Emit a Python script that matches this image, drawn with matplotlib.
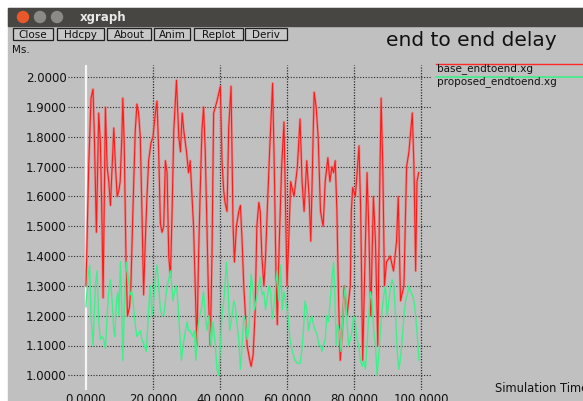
import numpy as np
import matplotlib
matplotlib.use("Agg")
import matplotlib.pyplot as plt
from matplotlib.patches import Rectangle, Circle

# base_endtoend.xg  (time, delay)
base_t = [0.0, 0.8, 1.5, 2.1, 2.5, 3.1, 3.8, 4.3, 4.8, 5.1, 5.8, 6.3, 6.8, 7.3, 7.8, 8.3, 8.8, 9.3, 9.8, 10.2,
          10.7, 11.0, 11.4, 12.0, 12.4, 13.0, 13.4, 14.0, 14.7, 15.2, 15.7, 16.2, 16.7, 17.2, 17.7, 18.2, 18.7, 19.4, 20.0, 20.7,
          21.2, 21.7, 22.2, 22.7, 23.2, 23.7, 24.2, 24.7, 25.2, 25.7, 26.2, 27.0, 27.7, 28.2, 28.7, 29.2, 30.0, 30.6, 31.1, 32.1,
          32.6, 33.1, 33.6, 34.1, 34.6, 35.1, 35.6, 36.1, 36.6, 37.1, 37.6, 38.1, 39.1, 40.1, 40.6, 41.1, 41.5, 42.1, 42.6, 43.3,
          43.9, 44.3, 44.9, 45.6, 46.1, 46.6, 47.1, 47.6, 48.1, 48.9, 49.3, 49.9, 50.5, 51.0, 51.6, 52.0, 52.5, 53.1, 53.6, 54.1,
          54.8, 55.7, 56.2, 56.7, 57.1, 57.7, 58.4, 59.1, 59.5, 60.0, 60.6, 61.1, 62.1, 63.1, 63.9, 64.5, 65.1, 65.9, 66.6, 67.1,
          67.6, 68.1, 68.7, 69.3, 70.0, 70.8, 71.4, 72.2, 72.8, 73.4, 73.9, 74.4, 74.9, 75.4, 75.9, 76.5, 77.1, 77.9, 78.9, 79.2,
          79.6, 80.4, 81.5, 82.0, 82.6, 83.1, 83.9, 84.4, 85.0, 85.8, 86.4, 87.1, 87.7, 88.1, 88.6, 89.1, 89.7, 90.8, 91.8, 92.7,
          93.2, 93.9, 94.9, 95.7, 96.4, 97.4, 97.9, 98.4, 98.8, 99.3]
base_d = [1.30, 1.70, 1.93, 1.96, 1.80, 1.48, 1.88, 1.78, 1.50, 1.26, 1.90, 1.70, 1.65, 1.57, 1.70, 1.83, 1.70, 1.60, 1.62, 1.65,
          1.80, 1.93, 1.78, 1.35, 1.20, 1.23, 1.30, 1.55, 1.82, 1.91, 1.88, 1.80, 1.55, 1.27, 1.45, 1.60, 1.72, 1.78, 1.80, 1.88,
          1.92, 1.75, 1.51, 1.48, 1.50, 1.72, 1.68, 1.40, 1.33, 1.55, 1.82, 1.99, 1.80, 1.75, 1.88, 1.82, 1.75, 1.68, 1.72, 1.50,
          1.30, 1.10, 1.40, 1.62, 1.82, 1.90, 1.75, 1.50, 1.25, 1.10, 1.40, 1.88, 1.92, 1.97, 1.72, 1.62, 1.58, 1.55, 1.83, 1.97,
          1.50, 1.38, 1.50, 1.55, 1.57, 1.45, 1.30, 1.20, 1.10, 1.05, 1.03, 1.07, 1.22, 1.50, 1.58, 1.55, 1.40, 1.30, 1.40, 1.55,
          1.75, 1.98, 1.70, 1.35, 1.17, 1.45, 1.70, 1.85, 1.60, 1.30, 1.48, 1.65, 1.60, 1.70, 1.86, 1.65, 1.55, 1.72, 1.60, 1.45,
          1.70, 1.95, 1.90, 1.80, 1.55, 1.50, 1.65, 1.73, 1.65, 1.70, 1.68, 1.72, 1.55, 1.25, 1.05, 1.15, 1.30, 1.20, 1.30, 1.55,
          1.63, 1.60, 1.77, 1.55, 1.05, 1.30, 1.68, 1.50, 1.20, 1.60, 1.45, 1.10, 1.65, 1.93, 1.70, 1.30, 1.38, 1.40, 1.35, 1.45,
          1.60, 1.25, 1.30, 1.70, 1.75, 1.88, 1.70, 1.35, 1.65, 1.68]

# proposed_endtoend.xg  (time, delay)
prop_t = [0.0, 0.5, 1.1, 1.5, 2.1, 2.8, 3.3, 3.8, 4.3, 4.8, 5.3, 5.8, 6.3, 6.8, 7.3, 7.8, 8.3, 8.6, 9.1, 9.5,
          9.8, 10.3, 10.7, 11.0, 11.5, 12.0, 12.7, 13.2, 13.7, 14.2, 14.7, 15.2, 16.2, 16.7, 17.4, 18.0, 18.7, 19.2, 19.7, 20.2,
          20.7, 21.2, 21.7, 22.2, 22.7, 23.2, 23.7, 24.2, 24.7, 25.2, 26.0, 26.4, 27.0, 27.4, 28.0, 28.5, 29.0, 29.7, 30.2, 30.6,
          31.1, 31.8, 32.3, 32.8, 33.3, 33.9, 34.4, 35.1, 35.6, 36.1, 36.7, 37.3, 37.9, 38.6, 39.1, 39.6, 40.1, 40.6, 41.3, 41.9,
          42.4, 42.9, 43.6, 44.1, 44.6, 45.1, 45.6, 46.1, 46.6, 47.1, 47.6, 48.1, 48.6, 49.3, 49.9, 50.3, 51.1, 52.0, 52.6, 53.1,
          53.6, 54.1, 54.6, 55.1, 55.6, 56.1, 56.6, 57.1, 57.6, 58.1, 58.6, 59.1, 59.6, 60.3, 60.9, 61.6, 62.4, 63.1, 63.9, 64.4,
          64.9, 65.4, 65.9, 66.4, 66.9, 67.4, 67.9, 68.4, 68.9, 69.6, 70.1, 70.4, 70.9, 71.4, 71.9, 72.4, 72.9, 73.4, 73.9, 74.2,
          74.7, 75.1, 75.6, 76.1, 76.6, 76.9, 77.4, 77.9, 78.4, 78.9, 79.4, 79.9, 80.4, 80.9, 81.4, 81.9, 82.4, 82.9, 83.4, 83.9,
          84.4, 84.9, 85.4, 85.9, 86.4, 86.9, 87.4, 87.9, 88.4, 88.9, 89.4, 89.9, 90.4, 90.9, 91.4, 91.9, 92.4, 92.9, 93.4, 93.9,
          94.4, 94.9, 95.4, 95.9, 96.4, 96.9, 97.4, 97.9, 98.4, 98.9, 99.4]
prop_d = [1.23, 1.32, 1.37, 1.20, 1.10, 1.30, 1.35, 1.18, 1.12, 1.13, 1.12, 1.09, 1.20, 1.28, 1.32, 1.25, 1.15, 1.13, 1.25, 1.28,
          1.20, 1.38, 1.20, 1.05, 1.25, 1.38, 1.32, 1.27, 1.28, 1.23, 1.17, 1.13, 1.15, 1.12, 1.10, 1.08, 1.22, 1.30, 1.20, 1.25,
          1.33, 1.37, 1.30, 1.22, 1.20, 1.20, 1.25, 1.30, 1.32, 1.35, 1.25, 1.28, 1.30, 1.25, 1.14, 1.05, 1.10, 1.15, 1.18, 1.15,
          1.15, 1.13, 1.15, 1.05, 1.15, 1.20, 1.22, 1.28, 1.20, 1.15, 1.20, 1.10, 1.18, 1.10, 1.02, 1.00, 1.10, 1.20, 1.27, 1.38,
          1.30, 1.15, 1.20, 1.25, 1.23, 1.17, 1.12, 1.02, 1.10, 1.20, 1.18, 1.12, 1.15, 1.34, 1.28, 1.22, 1.27, 1.33, 1.27, 1.28,
          1.22, 1.26, 1.30, 1.28, 1.19, 1.23, 1.30, 1.35, 1.25, 1.37, 1.22, 1.28, 1.25, 1.20, 1.12, 1.08, 1.05, 1.04, 1.04, 1.08,
          1.15, 1.25, 1.22, 1.15, 1.18, 1.20, 1.17, 1.15, 1.14, 1.10, 1.10, 1.08, 1.10, 1.12, 1.20, 1.18, 1.25, 1.32, 1.38, 1.30,
          1.10, 1.17, 1.15, 1.08, 1.18, 1.25, 1.30, 1.18, 1.10, 1.12, 1.15, 1.20, 1.18, 1.12, 1.10, 1.05, 1.03, 1.05, 1.02, 1.10,
          1.20, 1.28, 1.25, 1.15, 1.10, 1.00, 1.07, 1.15, 1.22, 1.27, 1.30, 1.20, 1.25, 1.30, 1.32, 1.30, 1.20, 1.08, 1.02, 1.06,
          1.12, 1.20, 1.25, 1.27, 1.30, 1.28, 1.27, 1.25, 1.20, 1.13, 1.05]

x_ticks = [0, 20, 40, 60, 80, 100]
y_ticks = [1.0, 1.1, 1.2, 1.3, 1.4, 1.5, 1.6, 1.7, 1.8, 1.9, 2.0]
buttons = ["Close", "Hdcpy", "About", "Anim", "Replot", "Deriv"]
series_names = ["base_endtoend.xg", "proposed_endtoend.xg"]

W, H = 583, 401
gray = "#c0c0c0"
fig = plt.figure(figsize=(W / 100, H / 100), dpi=100, facecolor="white")

# background / window chrome in pixel coordinates
bg = fig.add_axes([0, 0, 1, 1])
bg.set_xlim(0, W)
bg.set_ylim(H, 0)
bg.axis("off")
bg.add_patch(Rectangle((8, 8), W - 8, H - 8, color=gray, zorder=0))
bg.add_patch(Rectangle((8, 8), W - 8, 18, color="#484643", zorder=1))
bg.add_patch(Circle((23, 17), 5.5, color="#e8582a", zorder=2))
bg.add_patch(Circle((40, 17), 5.5, color="#8c8a86", zorder=2))
bg.add_patch(Circle((57, 17), 5.5, color="#8c8a86", zorder=2))
bg.text(80, 17.5, "xgraph", color="#e8e8e8", fontsize=8.5, fontweight="bold", va="center", ha="left")

bx = [13, 57, 107, 154, 194, 245]
bw = [40, 47, 44, 36, 49, 42]
for x0, w, lab in zip(bx, bw, buttons):
    bg.add_patch(Rectangle((x0, 28), w, 12, facecolor="#c8c8c8", edgecolor="#202020", lw=0.9, zorder=2))
    bg.text(x0 + w / 2, 34.5, lab, fontsize=7.5, ha="center", va="center", color="#111111", zorder=3)

bg.text(12, 50, "Ms.", fontsize=7.5, ha="left", va="center", color="#111111")
bg.text(386, 40, "end to end delay", fontsize=14.5, ha="left", va="center", color="#111111")
bg.text(495, 388, "Simulation Time", fontsize=8.3, ha="left", va="center", color="#111111")

# legend, xgraph style: line above the name
bg.plot([436, W], [63.5, 63.5], color="#ff2a2a", lw=1.0)
bg.plot([436, W], [76.5, 76.5], color="#3ef08c", lw=1.2)
bg.text(437, 69, series_names[0], fontsize=7.5, ha="left", va="center", color="#111111")
bg.text(437, 82, series_names[1], fontsize=7.5, ha="left", va="center", color="#111111")

# data axes
l_px, r_px, t_px, b_px = 68, 432, 65, 390
ax = fig.add_axes([l_px / W, (H - b_px) / H, (r_px - l_px) / W, (b_px - t_px) / H])
ax.patch.set_alpha(0)
px_per_x = 335 / 100
px_per_y = 298.0
ax.set_xlim((l_px - 86) / px_per_x, (r_px - 86) / px_per_x)
ax.set_ylim(1.0 - (b_px - 375.3) / px_per_y, 2.0 + (77.3 - t_px) / px_per_y)
for s in ax.spines.values():
    s.set_visible(False)

for yv in y_ticks:
    ax.axhline(yv, color="#2a2a2a", lw=0.8, dashes=(1, 1.5), zorder=1)
for xv in x_ticks[1:]:
    ax.axvline(xv, color="#2a2a2a", lw=0.9, dashes=(1, 1.2), zorder=1)
ax.axvline(0, color="white", lw=1.6, alpha=0.85, zorder=1)

ax.set_xticks(x_ticks)
ax.set_xticklabels(["%.4f" % v for v in x_ticks])
ax.set_yticks(y_ticks)
ax.set_yticklabels(["%.4f" % v for v in y_ticks])
ax.tick_params(length=0, labelsize=8.5, colors="#111111", pad=2)
ax.tick_params(axis="y", pad=1)

ax.plot(base_t, base_d, color="#ec8080", lw=1.9, alpha=0.7, zorder=2)
ax.plot(base_t, base_d, color="#ff1a1a", lw=0.8, zorder=3)
ax.plot(prop_t, prop_d, color="#3ef08c", lw=1.0, zorder=4)

fig.savefig("out.png", dpi=100, facecolor="white")
